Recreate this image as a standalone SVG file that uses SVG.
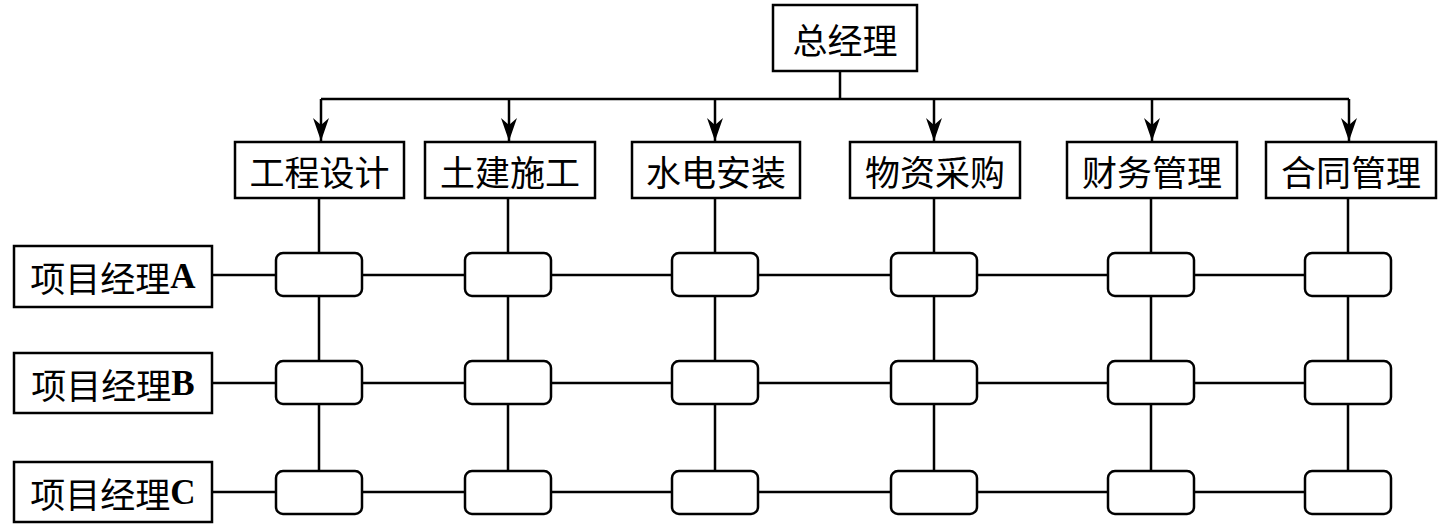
<svg xmlns="http://www.w3.org/2000/svg" width="1438" height="530" viewBox="0 0 1438 530">
<style>
.box{fill:#fff;stroke:#000;stroke-width:2.5}
.cell{fill:#fff;stroke:#000;stroke-width:2.5}
.ln{fill:none;stroke:#000;stroke-width:2.5}
text{font-family:"Noto Sans CJK SC","Noto Sans",sans-serif;font-size:35px;font-weight:400;fill:#000;text-anchor:middle;dominant-baseline:central}
.lat{font-family:"Liberation Serif",serif;font-weight:bold}
</style>
<defs>
<marker id="arr" markerWidth="23" markerHeight="16" refX="23" refY="8" orient="auto" markerUnits="userSpaceOnUse" viewBox="0 0 23 16">
<path d="M0,0 L7,8 L0,16 L23,8 Z" fill="#000"/>
</marker>
</defs>
<g id="connectors">
<path class="ln" d="M840,71 V99"/>
<path class="ln" d="M321,99 H1349"/>
<path class="ln" d="M321,99 V141" marker-end="url(#arr)"/>
<path class="ln" d="M509,99 V141" marker-end="url(#arr)"/>
<path class="ln" d="M715,99 V141" marker-end="url(#arr)"/>
<path class="ln" d="M934,99 V141" marker-end="url(#arr)"/>
<path class="ln" d="M1152,99 V141" marker-end="url(#arr)"/>
<path class="ln" d="M1349,99 V141" marker-end="url(#arr)"/>
<path class="ln" d="M319,198 V471 M508,198 V471 M715,198 V471 M934,198 V471 M1151,198 V471 M1348,198 V471"/>
<path class="ln" d="M212,275 H1306 M212,383 H1306 M212,492 H1306"/>
</g>
<g id="gm"><rect class="box" x="773" y="5" width="144" height="66"/><text x="845" y="38">总经理</text></g>
<g id="d1"><rect class="box" x="235" y="142" width="169" height="56"/><text x="319.5" y="170">工程设计</text></g>
<g id="d2"><rect class="box" x="425" y="142" width="170" height="56"/><text x="510" y="170">土建施工</text></g>
<g id="d3"><rect class="box" x="632" y="142" width="168" height="56"/><text x="716" y="170">水电安装</text></g>
<g id="d4"><rect class="box" x="850" y="142" width="170" height="56"/><text x="935" y="170">物资采购</text></g>
<g id="d5"><rect class="box" x="1067" y="142" width="170" height="56"/><text x="1152" y="170">财务管理</text></g>
<g id="d6"><rect class="box" x="1266" y="142" width="170" height="56"/><text x="1351" y="170">合同管理</text></g>
<g id="pA"><rect class="box" x="14" y="246" width="198" height="61"/><text x="113" y="276">项目经理<tspan class="lat">A</tspan></text></g>
<g id="pB"><rect class="box" x="14" y="353" width="198" height="60"/><text x="113" y="383">项目经理<tspan class="lat">B</tspan></text></g>
<g id="pC"><rect class="box" x="14" y="462" width="198" height="60"/><text x="113" y="492">项目经理<tspan class="lat">C</tspan></text></g>
<g id="cells">
<g id="cA1"><rect class="cell" x="276" y="253" width="86" height="43" rx="7"/></g>
<g id="cA2"><rect class="cell" x="465" y="253" width="86" height="43" rx="7"/></g>
<g id="cA3"><rect class="cell" x="672" y="253" width="86" height="43" rx="7"/></g>
<g id="cA4"><rect class="cell" x="891" y="253" width="86" height="43" rx="7"/></g>
<g id="cA5"><rect class="cell" x="1108" y="253" width="86" height="43" rx="7"/></g>
<g id="cA6"><rect class="cell" x="1305" y="253" width="86" height="43" rx="7"/></g>
<g id="cB1"><rect class="cell" x="276" y="361" width="86" height="43" rx="7"/></g>
<g id="cB2"><rect class="cell" x="465" y="361" width="86" height="43" rx="7"/></g>
<g id="cB3"><rect class="cell" x="672" y="361" width="86" height="43" rx="7"/></g>
<g id="cB4"><rect class="cell" x="891" y="361" width="86" height="43" rx="7"/></g>
<g id="cB5"><rect class="cell" x="1108" y="361" width="86" height="43" rx="7"/></g>
<g id="cB6"><rect class="cell" x="1305" y="361" width="86" height="43" rx="7"/></g>
<g id="cC1"><rect class="cell" x="276" y="471" width="86" height="43" rx="7"/></g>
<g id="cC2"><rect class="cell" x="465" y="471" width="86" height="43" rx="7"/></g>
<g id="cC3"><rect class="cell" x="672" y="471" width="86" height="43" rx="7"/></g>
<g id="cC4"><rect class="cell" x="891" y="471" width="86" height="43" rx="7"/></g>
<g id="cC5"><rect class="cell" x="1108" y="471" width="86" height="43" rx="7"/></g>
<g id="cC6"><rect class="cell" x="1305" y="471" width="86" height="43" rx="7"/></g>
</g>
</svg>
